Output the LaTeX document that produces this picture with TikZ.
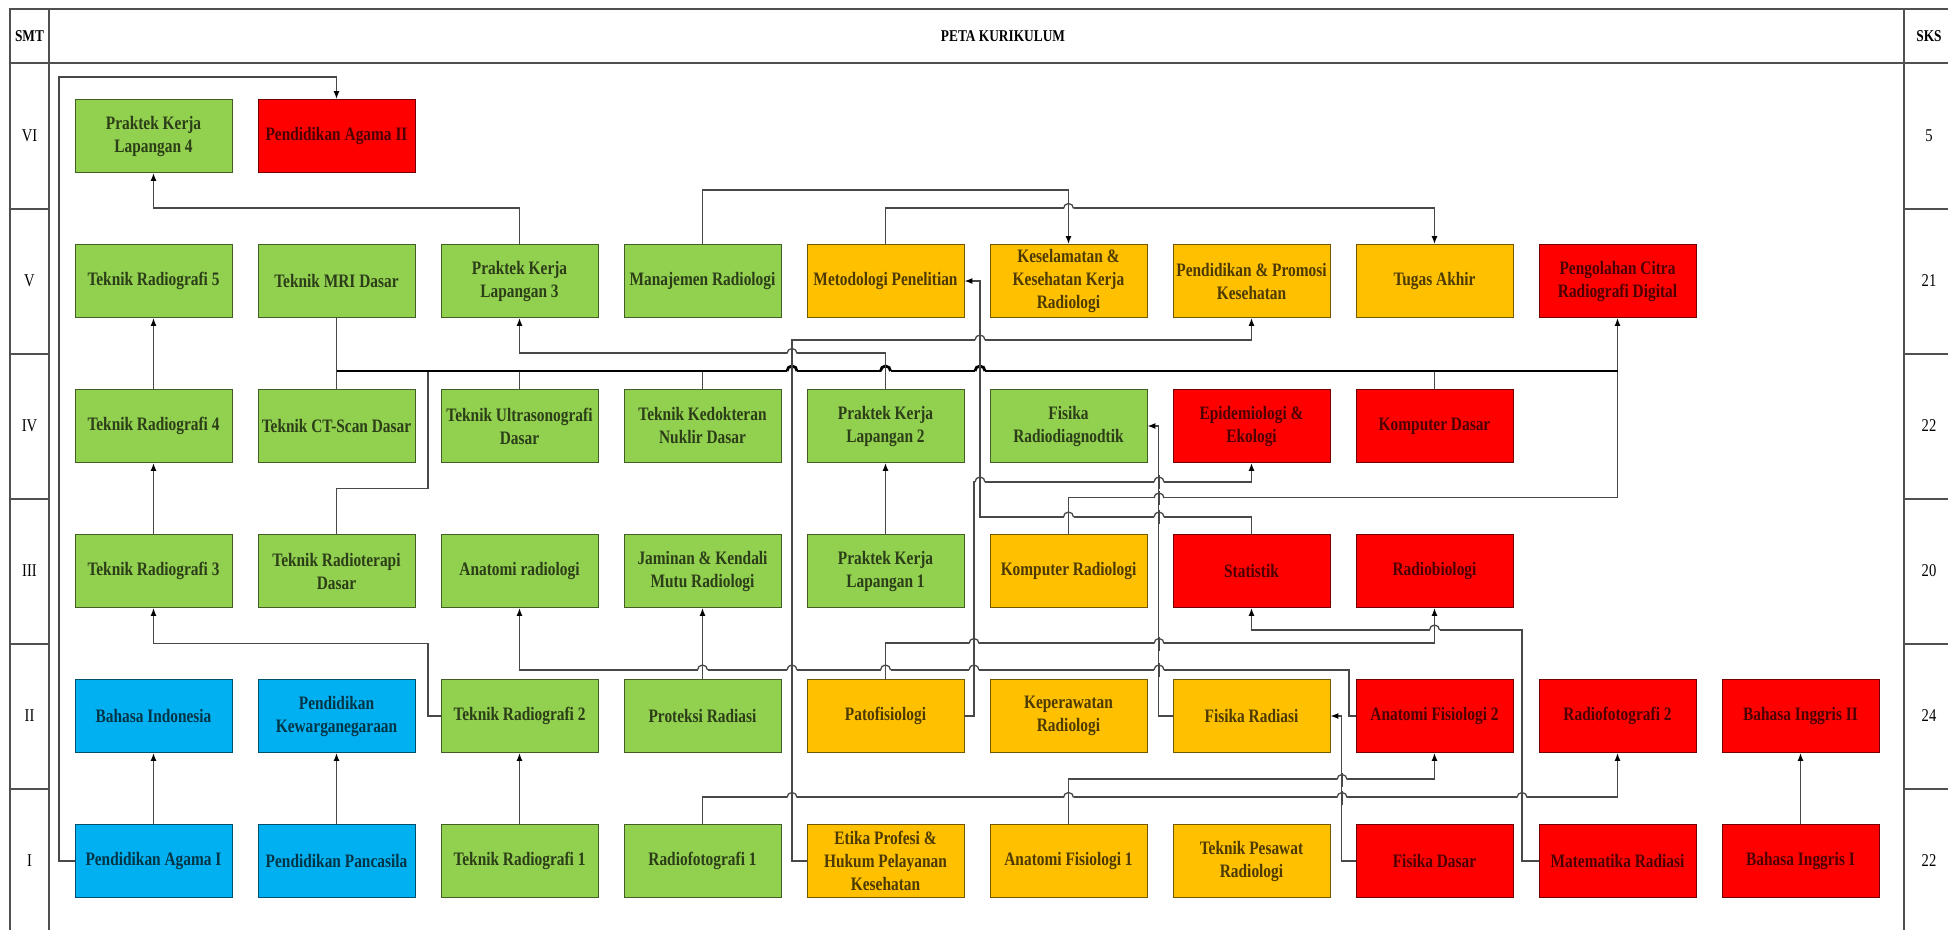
\documentclass[tikz,border=0pt]{standalone}
\usepackage{fontspec}
\setmainfont{Liberation Serif}[FakeStretch=0.81]
\usetikzlibrary{arrows.meta}

\begin{document}
\begin{tikzpicture}[
    x=1pt,
    y=-1pt,
    >=Latex,
    course/.style={
        draw=#1!45!black,
        fill=#1,
        text=#1!30!black,
        line width=0.9pt,
        minimum width=157pt,
        minimum height=73pt,
        inner sep=2pt,
        align=center,
        font=\bfseries\fontsize{19}{23}\selectfont
    },
    wire/.style={draw=wiregrey, line width=1.3pt},
    link/.style={wire, -{Latex[length=8pt, width=6pt, color=black]}},
    trunk/.style={draw=black, line width=2.8pt},
    frame/.style={draw=framegrey, line width=1.6pt},
    head/.style={font=\bfseries\fontsize{16.5}{20}\selectfont},
    rowlab/.style={font=\fontsize{18}{22}\selectfont}
]

\definecolor{leaf}{RGB}{146,208,80}
\definecolor{sky}{RGB}{0,176,240}
\definecolor{amber}{RGB}{255,192,0}
\definecolor{crimson}{RGB}{255,0,0}
\definecolor{wiregrey}{RGB}{72,72,72}
\definecolor{framegrey}{RGB}{80,80,80}

\path[use as bounding box] (0,0) rectangle (1948,930);

% Table frame: header row, semester column and credit column.
\draw[frame] (10,930) -- (10,9) -- (1948,9);
\draw[frame] (10,63) -- (1948,63);
\draw[frame] (49,9) -- (49,930);
\draw[frame] (1904,9) -- (1904,930);
\foreach \y in {209,354,499,644,789} {
    \draw[frame] (10,\y) -- (49,\y);
    \draw[frame] (1904,\y) -- (1948,\y);
}
\node[head] (smt) at (29.5,36) {SMT};
\node[head] (title) at (1003,36) {PETA KURIKULUM};
\node[head] (sks) at (1929,36) {SKS};
\foreach \r/\y/\s in {VI/136/5, V/281/21, IV/426/22, III/571/20, II/716/24, I/861/22} {
    \node[rowlab] (smt\r) at (29.5,\y) {\r};
    \node[rowlab] (sks\r) at (1929,\y) {\s};
}

% Semester VI.
\node[course=leaf] (pkl4) at (153.5,136) {Praktek Kerja\\Lapangan 4};
\node[course=crimson] (pag2) at (336.5,136) {Pendidikan Agama II};

% Semester V.
\node[course=leaf] (tr5) at (153.5,281) {Teknik Radiografi 5};
\node[course=leaf] (mri) at (336.5,281) {Teknik MRI Dasar};
\node[course=leaf] (pkl3) at (519.5,281) {Praktek Kerja\\Lapangan 3};
\node[course=leaf] (manrad) at (702.5,281) {Manajemen Radiologi};
\node[course=amber] (metpen) at (885.5,281) {Metodologi Penelitian};
\node[course=amber] (k3) at (1068.5,281) {Keselamatan \&\\Kesehatan Kerja\\Radiologi};
\node[course=amber] (promkes) at (1251.5,281) {Pendidikan \& Promosi\\Kesehatan};
\node[course=amber] (ta) at (1434.5,281) {Tugas Akhir};
\node[course=crimson] (pcitra) at (1617.5,281) {Pengolahan Citra\\Radiografi Digital};

% Semester IV.
\node[course=leaf] (tr4) at (153.5,426) {Teknik Radiografi 4};
\node[course=leaf] (ctscan) at (336.5,426) {Teknik CT-Scan Dasar};
\node[course=leaf] (usg) at (519.5,426) {Teknik Ultrasonografi\\Dasar};
\node[course=leaf] (nuklir) at (702.5,426) {Teknik Kedokteran\\Nuklir Dasar};
\node[course=leaf] (pkl2) at (885.5,426) {Praktek Kerja\\Lapangan 2};
\node[course=leaf] (fisdiag) at (1068.5,426) {Fisika\\Radiodiagnodtik};
\node[course=crimson] (epid) at (1251.5,426) {Epidemiologi \&\\Ekologi};
\node[course=crimson] (komdas) at (1434.5,426) {Komputer Dasar};

% Semester III.
\node[course=leaf] (tr3) at (153.5,571) {Teknik Radiografi 3};
\node[course=leaf] (radter) at (336.5,571) {Teknik Radioterapi\\Dasar};
\node[course=leaf] (anatrad) at (519.5,571) {Anatomi radiologi};
\node[course=leaf] (jkm) at (702.5,571) {Jaminan \& Kendali\\Mutu Radiologi};
\node[course=leaf] (pkl1) at (885.5,571) {Praktek Kerja\\Lapangan 1};
\node[course=amber] (komrad) at (1068.5,571) {Komputer Radiologi};
\node[course=crimson] (stat) at (1251.5,571) {Statistik};
\node[course=crimson] (radbio) at (1434.5,571) {Radiobiologi};

% Semester II.
\node[course=sky] (bind) at (153.5,716) {Bahasa Indonesia};
\node[course=sky] (pkn) at (336.5,716) {Pendidikan\\Kewarganegaraan};
\node[course=leaf] (tr2) at (519.5,716) {Teknik Radiografi 2};
\node[course=leaf] (prot) at (702.5,716) {Proteksi Radiasi};
\node[course=amber] (patof) at (885.5,716) {Patofisiologi};
\node[course=amber] (kepraw) at (1068.5,716) {Keperawatan\\Radiologi};
\node[course=amber] (fisrad) at (1251.5,716) {Fisika Radiasi};
\node[course=crimson] (af2) at (1434.5,716) {Anatomi Fisiologi 2};
\node[course=crimson] (rf2) at (1617.5,716) {Radiofotografi 2};
\node[course=crimson] (big2) at (1800.5,716) {Bahasa Inggris II};

% Semester I.
\node[course=sky] (pag1) at (153.5,861) {Pendidikan Agama I};
\node[course=sky] (panc) at (336.5,861) {Pendidikan Pancasila};
\node[course=leaf] (tr1) at (519.5,861) {Teknik Radiografi 1};
\node[course=leaf] (rf1) at (702.5,861) {Radiofotografi 1};
\node[course=amber] (etika) at (885.5,861) {Etika Profesi \&\\Hukum Pelayanan\\Kesehatan};
\node[course=amber] (af1) at (1068.5,861) {Anatomi Fisiologi 1};
\node[course=amber] (tekpes) at (1251.5,861) {Teknik Pesawat\\Radiologi};
\node[course=crimson] (fisdas) at (1434.5,861) {Fisika Dasar};
\node[course=crimson] (matrad) at (1617.5,861) {Matematika Radiasi};
\node[course=crimson] (big1) at (1800.5,861) {Bahasa Inggris I};

% Straight prerequisites, one semester up.
\foreach \a/\b in {pag1/bind, panc/pkn, tr1/tr2, big1/big2, tr3/tr4, tr4/tr5, pkl1/pkl2, prot/jkm} {
    \draw[link] (\a.north) -- (\b.south);
}

% Routed prerequisites.
\draw[link] (pag1.west) -| (59,77) -| (pag2.north);
\draw[link] (pkl3.north) -- ++(0,-36) -| (pkl4.south);
\draw[link] (pkl2.north) -- ++(0,-36) -| (pkl3.south);
\draw[link] (tr2.west) -| (428,643.5) -| (tr3.south);
\draw[link] (manrad.north) -- ++(0,-54) -| (k3.north);
\draw[link] (metpen.north) -- ++(0,-36) -| (ta.north);
\draw[link] (etika.west) -| (792,340) -| (promkes.south);
\draw[link] (stat.north) |- (980,517) |- (metpen.east);
\draw[link] (patof.east) -| (974,482) -| (epid.south);
\draw[link] (fisrad.west) -- ++(-14,0) |- (fisdiag.east);
\draw[link] (af2.west) -| (1349,670) -| (anatrad.south);
\draw[link] (patof.north) -- ++(0,-36) -| (radbio.south);
\draw[link] (matrad.west) -| (1522,630) -| (stat.south);
\draw[link] (fisdas.west) -- ++(-14,0) |- (fisrad.east);
\draw[link] (af1.north) -- ++(0,-45) -| (af2.south);
\draw[link] (rf1.north) -- ++(0,-27) -| (rf2.south);

% Collector line feeding Pengolahan Citra.
\draw[wire] (mri.south) -- (ctscan.north);
\draw[wire] (radter.north) -- ++(0,-45.5) -| (428,371);
\foreach \n in {usg, nuklir, komdas} {
    \draw[wire] (\n.north) -- (\n.north |- 0,371);
}
\draw[link] (komrad.north) -- ++(0,-36.5) -| (pcitra.south);
\draw[trunk] (mri.south |- 0,371) -- (pcitra.south |- 0,371);

% Line hops where a horizontal run passes over a vertical one.
\foreach \hx/\hy in {
    1068.5/208.5, 980/340, 792/353.5,
    980/482, 1159/482, 1159/498, 1068.5/517, 1159/517,
    1434.5/630, 974/643.5, 1159/643.5,
    702.5/670, 792/670, 885.5/670, 974/670, 1159/670,
    1342/779.5, 792/797.5, 1068.5/797.5, 1342/797.5, 1522/797.5
} {
    \fill[white] (\hx-5,\hy-2) rectangle (\hx+5,\hy+2);
    \draw[wire] (\hx-5,\hy) arc[start angle=180, end angle=0, radius=5pt];
    \draw[wire] (\hx,\hy-7) -- (\hx,\hy+7);
}
\foreach \hx in {792, 885.5, 980} {
    \fill[white] (\hx-5,368) rectangle (\hx+5,374);
    \draw[trunk] (\hx-5,371) arc[start angle=180, end angle=0, radius=5pt];
    \draw[wire] (\hx,363) -- (\hx,379);
}

\end{tikzpicture}
\end{document}
